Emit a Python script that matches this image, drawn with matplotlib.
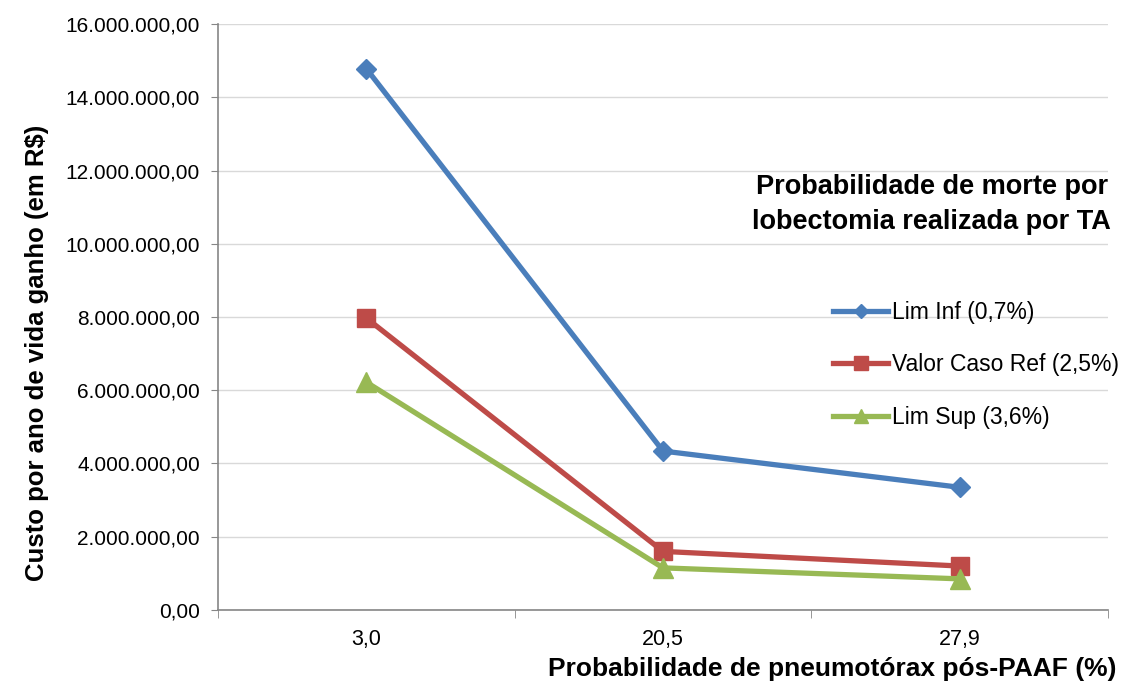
import matplotlib
matplotlib.use("Agg")
import matplotlib.pyplot as plt
from matplotlib.ticker import FuncFormatter, FixedLocator

plt.rcParams['font.family'] = ['Liberation Sans', 'DejaVu Sans']

categorias = ['3,0', '20,5', '27,9']
lim_inf = [14780000, 4340000, 3350000]
caso_ref = [7970000, 1600000, 1200000]
lim_sup = [6220000, 1150000, 850000]

series = [
    ('Lim Inf (0,7%)', lim_inf, '#4a7ebb', 'D', 10.5),
    ('Valor Caso Ref (2,5%)', caso_ref, '#be4b48', 's', 13.5),
    ('Lim Sup (3,6%)', lim_sup, '#98b954', '^', 14),
]


def br_fmt(v, pos):
    s = f'{v:,.2f}'
    return s.replace(',', 'X').replace('.', ',').replace('X', '.')


fig = plt.figure(figsize=(11.32, 6.86), dpi=100)
ax = fig.add_axes([0.1926, 0.1108, 0.7862, 0.8542])

x = list(range(len(categorias)))
for nome, vals, cor, mk, ms in series:
    ax.plot(x, vals, color=cor, lw=3.8, marker=mk, markersize=ms,
            label=nome, zorder=3)

ax.set_ylim(0, 16000000)
ax.set_yticks(range(0, 16000001, 2000000))
ax.yaxis.set_major_formatter(FuncFormatter(br_fmt))
ax.set_xlim(-0.5, len(categorias) - 0.5)
ax.set_xticks(x)
ax.set_xticklabels(categorias)
ax.xaxis.set_minor_locator(FixedLocator([i - 0.5 for i in range(len(categorias) + 1)]))

ax.grid(axis='y', color='#d9d9d9', lw=1)
ax.set_axisbelow(True)
for s in ['top', 'right']:
    ax.spines[s].set_visible(False)
for s in ['left', 'bottom']:
    ax.spines[s].set_color('#868686')
    ax.spines[s].set_linewidth(1.2)

ax.tick_params(axis='y', length=5, color='#868686', labelsize=15, pad=8)
ax.tick_params(axis='x', which='major', length=0, labelsize=15.5, pad=14)
ax.tick_params(axis='x', which='minor', length=6, color='#868686')

ax.set_ylabel('Custo por ano de vida ganho (em R$)', fontsize=18.5,
              fontweight='bold')
ax.yaxis.set_label_coords(-0.19, 0.4386)
ax.set_xlabel('Probabilidade de pneumotórax pós-PAAF (%)', fontsize=19,
              fontweight='bold', loc='right')
ax.xaxis.set_label_coords(1.0101, -0.08)

ax.text(0.802, 0.692, 'Probabilidade de morte por\nlobectomia realizada por TA',
        transform=ax.transAxes, ha='center', va='center', fontsize=19.5,
        fontweight='bold', linespacing=1.45)

leg = ax.legend(loc='upper left', bbox_to_anchor=(0.681, 0.5435), frameon=False,
                fontsize=16.5, labelspacing=1.3, handlelength=2.4,
                handletextpad=0.15, markerscale=0.7, borderaxespad=0)

fig.savefig('out.png', dpi=100)
